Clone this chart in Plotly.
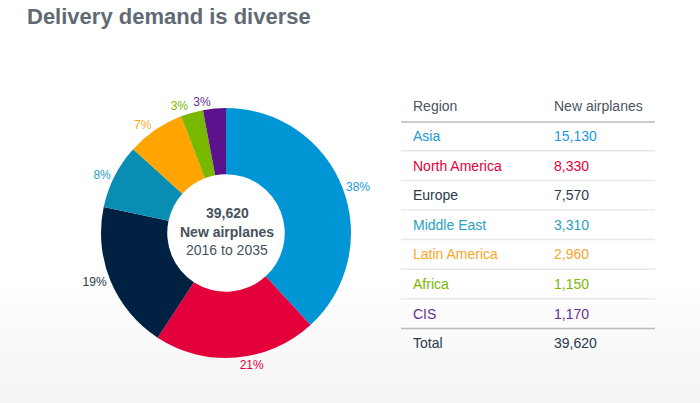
import plotly.graph_objects as go

regions = ["Asia", "North America", "Europe", "Middle East", "Latin America", "Africa", "CIS"]
airplanes = [15130, 8330, 7570, 3310, 2960, 1150, 1170]
slice_colors = ["#0096d6", "#e4003a", "#002142", "#0a8db3", "#ffa400", "#79b800", "#5c128d"]
text_colors = ["#1b9ad8", "#e4003a", "#2b3a4a", "#2a9fc2", "#f9a62b", "#7ab800", "#6b2c91"]
header = ["Region", "New airplanes"]
total_label = "Total"
center_lines = ["<b>39,620</b>", "<b>New airplanes</b>", "2016 to 2035"]
title = "Delivery demand is diverse"

W, H = 700, 403
FONT = "Liberation Sans, Arial, Helvetica, sans-serif"


def px(x):
    return x / W


def py(y):
    return 1 - y / H


domain = dict(x=[px(101), px(351)], y=[py(358), py(108)])
last = len(regions) - 1
pie_common = dict(values=airplanes, labels=regions, sort=False, direction="clockwise",
                  rotation=0, hole=0.47, texttemplate="%{percent:.0%}",
                  outsidetextfont=dict(color=text_colors, size=12, family=FONT),
                  domain=domain, showlegend=False)

fig = go.Figure()
# main ring: labels for all but the last slice
fig.add_trace(go.Pie(
    marker=dict(colors=slice_colors, line=dict(width=0)),
    textposition=["outside" if i < last else "none" for i in range(len(regions))],
    hoverinfo="label+value+percent",
    **pie_common,
))
# overlay ring (transparent) carrying only the last slice label, so it sits above its slice
fig.add_trace(go.Pie(
    marker=dict(colors=["rgba(0,0,0,0)"] * len(regions), line=dict(width=0)),
    textposition=["outside" if i == last else "none" for i in range(len(regions))],
    hoverinfo="skip",
    **pie_common,
))

shapes = []
# subtle bottom gradient
n = 24
for i in range(n):
    y0 = 280 + i * (H - 280) / n
    y1 = 280 + (i + 1) * (H - 280) / n
    g = int(round(255 - 11 * (i + 1) / n))
    shapes.append(dict(type="rect", xref="paper", yref="paper", x0=0, x1=1,
                       y0=py(y1), y1=py(y0), fillcolor=f"rgb({g},{g},{g})",
                       line=dict(width=0), layer="below"))

annotations = []
annotations.append(dict(text=f"<b>{title}</b>", x=px(25), y=py(16), xref="paper", yref="paper",
                        xanchor="left", yanchor="middle", showarrow=False,
                        font=dict(family=FONT, size=22, color="#5f6a74")))

# centre text
cy = [213, 232, 250]
for t, yy in zip(center_lines, cy):
    annotations.append(dict(text=t, x=px(227), y=py(yy), xref="paper", yref="paper",
                            xanchor="center", yanchor="middle", showarrow=False,
                            font=dict(family=FONT, size=14, color="#47525c")))

# table
col_x = [411, 552]
line_x0, line_x1 = 401, 655
row0, pitch = 136, 29.6
header_y = 106
TS = 14
for t, cx in zip(header, col_x):
    annotations.append(dict(text=t, x=px(cx), y=py(header_y), xref="paper", yref="paper",
                            xanchor="left", yanchor="middle", showarrow=False,
                            font=dict(family=FONT, size=TS, color="#4a5560")))
shapes.append(dict(type="line", xref="paper", yref="paper", x0=px(line_x0), x1=px(line_x1),
                   y0=py(122), y1=py(122), line=dict(color="#b7bcc2", width=1.5)))
for i, (r, v, c) in enumerate(zip(regions, airplanes, text_colors)):
    yy = row0 + i * pitch
    annotations.append(dict(text=r, x=px(col_x[0]), y=py(yy), xref="paper", yref="paper",
                            xanchor="left", yanchor="middle", showarrow=False,
                            font=dict(family=FONT, size=TS, color=c)))
    annotations.append(dict(text=f"{v:,}", x=px(col_x[1]), y=py(yy), xref="paper", yref="paper",
                            xanchor="left", yanchor="middle", showarrow=False,
                            font=dict(family=FONT, size=TS, color=c)))
    if i < len(regions) - 1:
        ly = yy + pitch / 2
        shapes.append(dict(type="line", xref="paper", yref="paper", x0=px(line_x0), x1=px(line_x1),
                           y0=py(ly), y1=py(ly), line=dict(color="#e6e8ea", width=1.5)))
total_y = row0 + len(regions) * pitch
tl = total_y - pitch / 2
shapes.append(dict(type="line", xref="paper", yref="paper", x0=px(line_x0), x1=px(line_x1),
                   y0=py(tl), y1=py(tl), line=dict(color="#b7bcc2", width=1.5)))
annotations.append(dict(text=total_label, x=px(col_x[0]), y=py(total_y), xref="paper", yref="paper",
                        xanchor="left", yanchor="middle", showarrow=False,
                        font=dict(family=FONT, size=TS, color="#2b3a4a")))
annotations.append(dict(text=f"{sum(airplanes):,}", x=px(col_x[1]), y=py(total_y), xref="paper", yref="paper",
                        xanchor="left", yanchor="middle", showarrow=False,
                        font=dict(family=FONT, size=TS, color="#2b3a4a")))

fig.update_layout(
    width=W, height=H,
    margin=dict(l=0, r=0, t=0, b=0),
    paper_bgcolor="white",
    plot_bgcolor="white",
    shapes=shapes,
    annotations=annotations,
    font=dict(family=FONT),
)
fig.write_html("out.html", config={"displayModeBar": False},
               post_script="document.body.style.margin='0';")
